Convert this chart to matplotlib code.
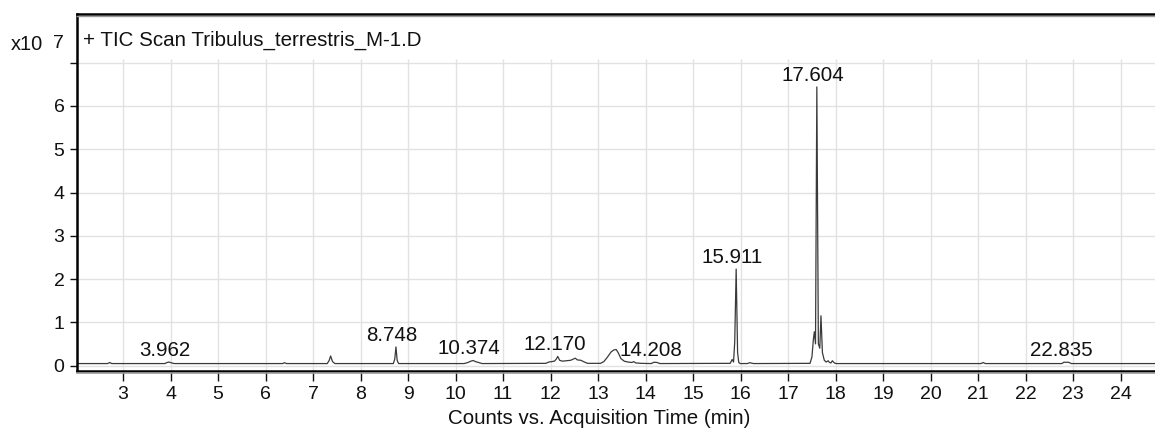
import matplotlib

matplotlib.use("Agg")
import matplotlib.pyplot as plt

# TIC trace, counts in units of 1e7
rt_min = [
    2.03, 2.68, 2.72, 2.76, 3.88, 3.93, 3.97, 4.02, 4.08,
    6.36, 6.40, 6.44, 7.30, 7.34, 7.37, 7.41, 7.46,
    8.69, 8.72, 8.745, 8.77, 8.80,
    10.18, 10.26, 10.32, 10.37, 10.42, 10.48, 10.56,
    11.90, 11.96, 12.02, 12.08, 12.12, 12.15, 12.19, 12.25, 12.33,
    12.42, 12.48, 12.52, 12.56, 12.64, 12.71, 12.78,
    13.05, 13.12, 13.20, 13.27, 13.33, 13.38, 13.42, 13.48, 13.55,
    13.63, 13.71, 13.75, 13.79, 13.90,
    14.12, 14.17, 14.24, 14.30,
    15.78, 15.82, 15.85, 15.875, 15.905, 15.935, 15.96, 15.99,
    16.14, 16.19, 16.27,
    17.46, 17.50, 17.53, 17.55, 17.575, 17.603, 17.635, 17.665,
    17.69, 17.72, 17.76, 17.80, 17.84, 17.87, 17.90, 17.93, 17.97, 18.01,
    21.06, 21.10, 21.15,
    22.76, 22.80, 22.90, 22.96,
    24.72,
]
counts_e7 = [
    0.045, 0.045, 0.07, 0.045, 0.045, 0.07, 0.08, 0.06, 0.045,
    0.045, 0.065, 0.045, 0.045, 0.12, 0.22, 0.09, 0.045,
    0.045, 0.15, 0.43, 0.12, 0.045,
    0.045, 0.07, 0.10, 0.115, 0.09, 0.07, 0.045,
    0.05, 0.08, 0.09, 0.10, 0.15, 0.21, 0.12, 0.10, 0.11,
    0.12, 0.15, 0.17, 0.13, 0.12, 0.08, 0.05,
    0.05, 0.09, 0.20, 0.31, 0.36, 0.37, 0.30, 0.16, 0.10,
    0.08, 0.07, 0.09, 0.06, 0.05,
    0.045, 0.075, 0.07, 0.045,
    0.05, 0.14, 0.08, 0.55, 2.23, 0.30, 0.07, 0.045,
    0.045, 0.065, 0.045,
    0.05, 0.20, 0.60, 0.78, 0.50, 6.44, 0.50, 0.40,
    1.15, 0.30, 0.12, 0.08, 0.11, 0.07, 0.06, 0.11, 0.06, 0.045,
    0.045, 0.07, 0.045,
    0.045, 0.075, 0.075, 0.045,
    0.045,
]

# labelled peaks: retention time and apex height
peak_rt = [3.962, 8.748, 10.374, 12.170, 14.208, 15.911, 17.604, 22.835]
peak_apex = [0.08, 0.43, 0.115, 0.21, 0.075, 2.23, 6.44, 0.075]
peak_labels = ["3.962", "8.748", "10.374", "12.170", "14.208", "15.911", "17.604", "22.835"]

x_ticks = list(range(3, 25))
y_ticks = list(range(0, 8))
y_tick_labels = ["0", "1", "2", "3", "4", "5", "6", ""]

FONT = "Liberation Sans"
W, H = 1155, 430
TEXT_SIZE = 14.8

plt.rcParams["font.family"] = [FONT, "DejaVu Sans"]

fig = plt.figure(figsize=(W / 100, H / 100), dpi=100)
left, right, bottom, top = 77, 1155, 371, 14
ax = fig.add_axes([left / W, 1 - bottom / H, (right - left) / W, (bottom - top) / H])

xlim = (2.032, 24.72)
ylim = (-0.127, 8.127)
ax.set_xlim(*xlim)
ax.set_ylim(*ylim)

# grid only covers the plotting band below the title strip
ax.vlines(x_ticks, ylim[0], 7.08, color="#e2e2e2", lw=1.0, zorder=0)
ax.hlines(y_ticks, xlim[0], xlim[1], color="#e2e2e2", lw=1.0, zorder=0)

ax.plot(rt_min, counts_e7, color="#3a3a3a", lw=0.9, zorder=2)

for rt, apex, lab in zip(peak_rt, peak_apex, peak_labels):
    ax.annotate(lab, (rt, apex), xytext=(-3, 4.5), textcoords="offset points",
                ha="center", va="baseline", fontsize=TEXT_SIZE, color="#111111")

ax.text(6 / (right - left), 1 - 26 / (bottom - top), "+ TIC Scan Tribulus_terrestris_M-1.D",
        transform=ax.transAxes, ha="left", va="center", fontsize=TEXT_SIZE, color="#111111")

ax.spines["right"].set_visible(False)
for side in ("left", "bottom", "top"):
    ax.spines[side].set_linewidth(1.8)
    ax.spines[side].set_color("black")

# grey shadow lines under the top and bottom frame
shadow = 2.2 / (bottom - top)
ax.plot([0, 1], [-shadow, -shadow], transform=ax.transAxes, color="#9a9a9a",
        lw=1.2, clip_on=False, zorder=3)
ax.plot([0, 1], [1 - shadow, 1 - shadow], transform=ax.transAxes, color="#9a9a9a",
        lw=1.0, clip_on=False, zorder=3)

ax.set_xticks(x_ticks)
ax.set_xticklabels([str(t) for t in x_ticks])
ax.set_yticks(y_ticks)
ax.set_yticklabels(y_tick_labels)
ax.tick_params(axis="x", direction="out", length=7, width=1, pad=4, labelsize=14, colors="#111111")
ax.tick_params(axis="y", direction="out", length=5, width=1, pad=4, labelsize=14, colors="#111111")

fig.text(11 / W, 1 - 45 / H, "x10", ha="left", va="center", fontsize=14.4, color="#111111")
fig.text(64 / W, 1 - 43 / H, "7", ha="right", va="center", fontsize=14, color="#111111")
fig.text(599 / W, 1 - 419 / H, "Counts vs. Acquisition Time (min)", ha="center", va="center",
         fontsize=TEXT_SIZE, color="#111111")

fig.savefig("out.png", dpi=100)
